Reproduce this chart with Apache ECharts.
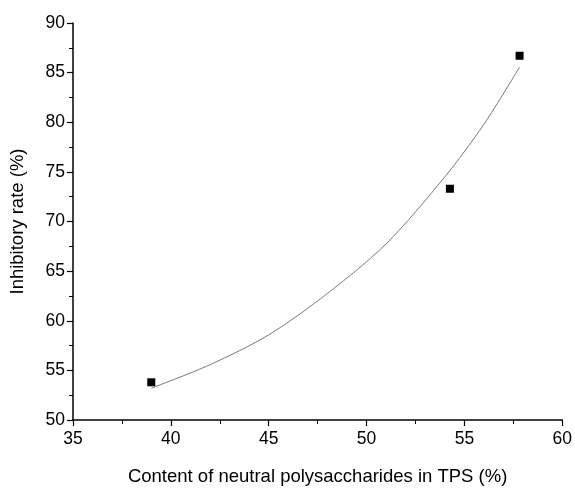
<!DOCTYPE html>
<html>
<head>
<meta charset="utf-8">
<script src="https://cdn.jsdelivr.net/npm/echarts@6/dist/echarts.min.js"></script>
<style>html,body{margin:0;padding:0;background:#fff}#c{width:575px;height:491px}</style>
</head>
<body>
<div id="c"></div>
<script>
// Measured points
var pointX = [39.0, 54.26, 57.82];
var pointY = [53.8, 73.3, 86.7];
// Fitted curve
var curveX = [39.0, 42.0, 45.0, 48.0, 51.0, 54.0, 56.0, 57.82];
var curveY = [53.2, 55.57, 58.58, 62.75, 67.75, 74.5, 79.8, 85.57];
var xTicks = [35, 40, 45, 50, 55, 60];
var yTicks = [50, 55, 60, 65, 70, 75, 80, 85, 90];

var pts = pointX.map(function (x, i) { return [x, pointY[i]]; });
var curve = curveX.map(function (x, i) { return [x, curveY[i]]; });

var font = '"Liberation Sans", Arial, sans-serif';
var chart = echarts.init(document.getElementById('c'), null, {renderer: 'canvas'});
chart.setOption({
  animation: false,
  backgroundColor: '#fff',
  grid: {left: 73, right: 10, top: 23, bottom: 67, containLabel: false},
  xAxis: {
    type: 'value', min: xTicks[0], max: xTicks[xTicks.length - 1], interval: 5,
    name: 'Content of neutral polysaccharides in TPS (%)',
    nameLocation: 'middle', nameGap: 47,
    nameTextStyle: {fontFamily: font, fontSize: 18.5, color: '#000'},
    axisLine: {show: true, onZero: false, lineStyle: {color: '#000', width: 1.5}},
    axisTick: {show: true, inside: false, length: 6, lineStyle: {color: '#000', width: 1.2}},
    minorTick: {show: true, splitNumber: 2, length: 4, lineStyle: {color: '#000', width: 1}},
    axisLabel: {fontFamily: font, fontSize: 17.5, color: '#000', margin: 10},
    splitLine: {show: false}
  },
  yAxis: {
    type: 'value', min: yTicks[0], max: yTicks[yTicks.length - 1], interval: 5,
    name: 'Inhibitory rate (%)',
    nameLocation: 'middle', nameGap: 46,
    nameTextStyle: {fontFamily: font, fontSize: 18.5, color: '#000'},
    axisLine: {show: true, onZero: false, lineStyle: {color: '#000', width: 1.5}},
    axisTick: {show: true, inside: false, length: 6, lineStyle: {color: '#000', width: 1.2}},
    minorTick: {show: true, splitNumber: 2, length: 4, lineStyle: {color: '#000', width: 1}},
    axisLabel: {fontFamily: font, fontSize: 17.5, color: '#000', margin: 8},
    splitLine: {show: false}
  },
  series: [
    {
      type: 'line', data: curve, smooth: 0.3, showSymbol: false, symbol: 'none',
      lineStyle: {color: '#7a7a7a', width: 1}, z: 1
    },
    {
      type: 'scatter', data: pts, symbol: 'rect', symbolSize: 8,
      itemStyle: {color: '#000', opacity: 1}, z: 2
    }
  ]
});
</script>
</body>
</html>
